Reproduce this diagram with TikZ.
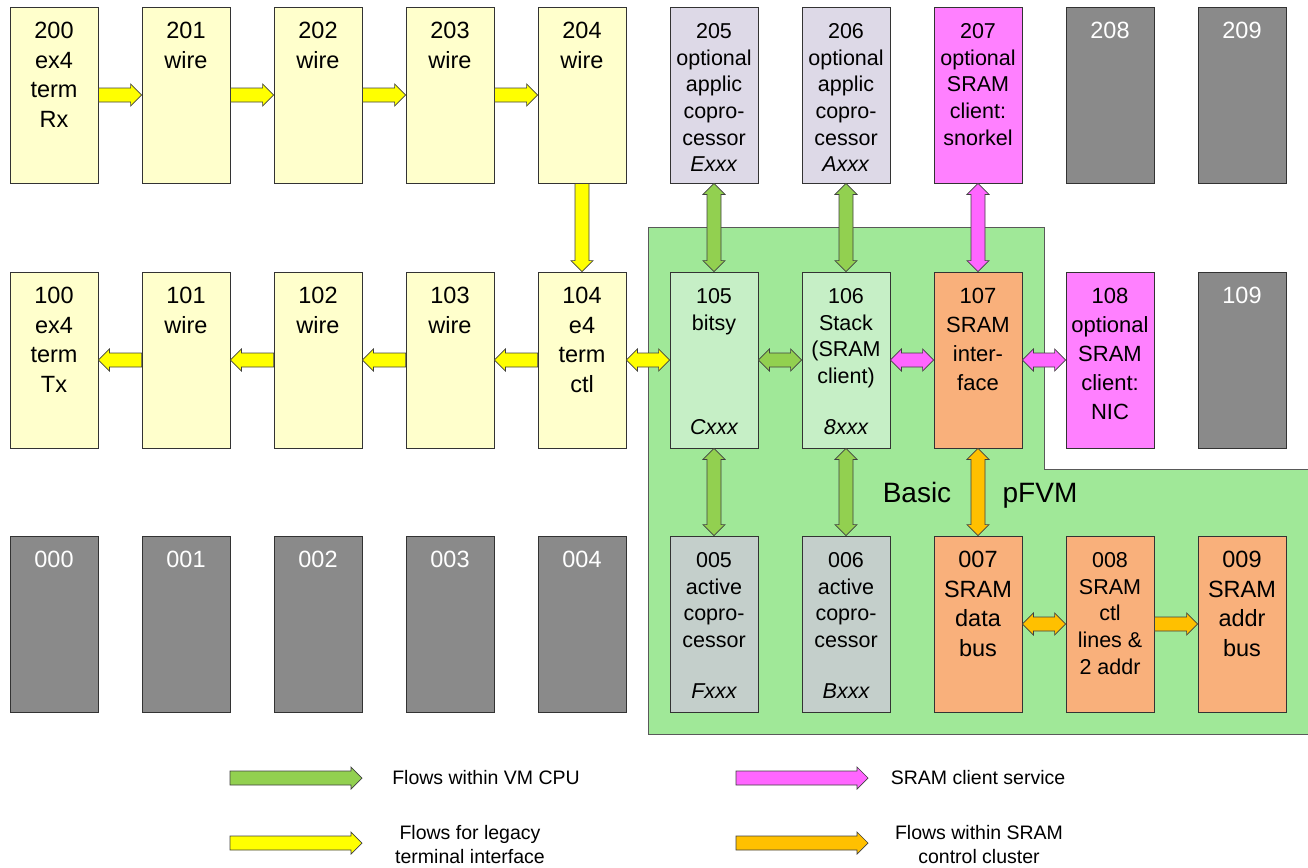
\documentclass[tikz,border=0pt]{standalone}
\usepackage{fontspec}
\setmainfont{Liberation Sans}
\usepackage{xcolor}
\usetikzlibrary{calc}

\definecolor{bxyel}{HTML}{FFFFCC}
\definecolor{bxlav}{HTML}{DDD9E7}
\definecolor{bxmag}{HTML}{FF80FF}
\definecolor{bxlgr}{HTML}{C6EFC6}
\definecolor{bxora}{HTML}{F9B07B}
\definecolor{bxggr}{HTML}{C4CFCB}
\definecolor{bxgray}{HTML}{8A8A8A}
\definecolor{regreen}{HTML}{A0E898}
\definecolor{ayel}{HTML}{FFFF00}
\definecolor{agrn}{HTML}{92D050}
\definecolor{amag}{HTML}{FF66FF}
\definecolor{aora}{HTML}{FFC000}

\newcommand{\bxbig}{\fontsize{23.5}{29.5}\selectfont}
\newcommand{\bxmid}{\fontsize{22}{29}\selectfont}
\newcommand{\bxsml}{\fontsize{21.5}{26.7}\selectfont}
\newcommand{\lgfont}{\fontsize{19.5}{24}\selectfont}

\tikzset{
  box/.style={draw=black!80, line width=0.8pt, minimum width=88pt, minimum height=176pt, inner sep=0pt},
  btxt/.style={anchor=north, align=center, inner sep=0pt, yshift=-15.5pt, font=\bxbig},
  mtxt/.style={anchor=north, align=center, inner sep=0pt, yshift=-16.5pt, font=\bxmid},
  stxt/.style={anchor=north, align=center, inner sep=0pt, yshift=-16.5pt, font=\bxsml},
  itl/.style={anchor=base, inner sep=0pt, yshift=13.5pt, font=\bxsml\itshape},
  onearr/.style={draw=black!75, line width=0.7pt, to path={
    ($(\tikztostart)!7pt!90:(\tikztotarget)$)
    -- ($(\tikztotarget)!11pt!(\tikztostart)!7pt!90:(\tikztotarget)$)
    -- ($(\tikztotarget)!11pt!(\tikztostart)!11pt!90:(\tikztotarget)$)
    -- (\tikztotarget)
    -- ($(\tikztotarget)!11pt!(\tikztostart)!11pt!-90:(\tikztotarget)$)
    -- ($(\tikztotarget)!11pt!(\tikztostart)!7pt!-90:(\tikztotarget)$)
    -- ($(\tikztostart)!7pt!-90:(\tikztotarget)$) -- cycle}},
  twoarr/.style={draw=black!75, line width=0.7pt, to path={
    (\tikztostart)
    -- ($(\tikztostart)!11pt!(\tikztotarget)!11pt!90:(\tikztotarget)$)
    -- ($(\tikztostart)!11pt!(\tikztotarget)!7pt!90:(\tikztotarget)$)
    -- ($(\tikztotarget)!11pt!(\tikztostart)!7pt!90:(\tikztotarget)$)
    -- ($(\tikztotarget)!11pt!(\tikztostart)!11pt!90:(\tikztotarget)$)
    -- (\tikztotarget)
    -- ($(\tikztotarget)!11pt!(\tikztostart)!11pt!-90:(\tikztotarget)$)
    -- ($(\tikztotarget)!11pt!(\tikztostart)!7pt!-90:(\tikztotarget)$)
    -- ($(\tikztostart)!11pt!(\tikztotarget)!7pt!-90:(\tikztotarget)$)
    -- ($(\tikztostart)!11pt!(\tikztotarget)!11pt!-90:(\tikztotarget)$)
    -- cycle}},
  lgtxt/.style={align=center, inner sep=0pt, font=\lgfont}
}

\begin{document}
\begin{tikzpicture}[x=1pt, y=-1pt]
  \useasboundingbox (0,0) rectangle (1308,867);

  % basic pFVM region
  \filldraw[fill=regreen, draw=black!65, line width=0.8pt] (648,227) -- (1044,227) -- (1044,469)
    -- (1312,469) -- (1312,734) -- (648,734) -- cycle;
  \node[font=\fontsize{28}{32}\selectfont, anchor=base, inner sep=0pt] (basic) at (917,502) {Basic};
  \node[font=\fontsize{28}{32}\selectfont, anchor=base, inner sep=0pt] (pfvm) at (1040,502) {pFVM};

  % row 2xx
  \node[box, fill=bxyel] (n200) at (54,95) {};
  \node[btxt] (t200) at (n200.north) {200\\ex4\\term\\Rx};
  \node[box, fill=bxyel] (n201) at (186,95) {};
  \node[btxt] (t201) at (n201.north) {201\\wire};
  \node[box, fill=bxyel] (n202) at (318,95) {};
  \node[btxt] (t202) at (n202.north) {202\\wire};
  \node[box, fill=bxyel] (n203) at (450,95) {};
  \node[btxt] (t203) at (n203.north) {203\\wire};
  \node[box, fill=bxyel] (n204) at (582,95) {};
  \node[btxt] (t204) at (n204.north) {204\\wire};
  \node[box, fill=bxlav] (n205) at (714,95) {};
  \node[stxt] (t205) at (n205.north) {205\\optional\\applic\\copro-\\cessor\\\textit{Exxx}};
  \node[box, fill=bxlav] (n206) at (846,95) {};
  \node[stxt] (t206) at (n206.north) {206\\optional\\applic\\copro-\\cessor\\\textit{Axxx}};
  \node[box, fill=bxmag] (n207) at (978,95) {};
  \node[stxt] (t207) at (n207.north) {207\\optional\\SRAM\\client:\\snorkel};

  % row 1xx
  \node[box, fill=bxyel] (n100) at (54,360) {};
  \node[btxt] (t100) at (n100.north) {100\\ex4\\term\\Tx};
  \node[box, fill=bxyel] (n101) at (186,360) {};
  \node[btxt] (t101) at (n101.north) {101\\wire};
  \node[box, fill=bxyel] (n102) at (318,360) {};
  \node[btxt] (t102) at (n102.north) {102\\wire};
  \node[box, fill=bxyel] (n103) at (450,360) {};
  \node[btxt] (t103) at (n103.north) {103\\wire};
  \node[box, fill=bxyel] (n104) at (582,360) {};
  \node[btxt] (t104) at (n104.north) {104\\e4\\term\\ctl};
  \node[box, fill=bxlgr] (n105) at (714,360) {};
  \node[stxt] (t105) at (n105.north) {105\\bitsy};
  \node[itl] (c105) at (n105.south) {Cxxx};
  \node[box, fill=bxlgr] (n106) at (846,360) {};
  \node[stxt] (t106) at (n106.north) {106\\Stack\\(SRAM\\client)};
  \node[itl] (c106) at (n106.south) {8xxx};
  \node[box, fill=bxora] (n107) at (978,360) {};
  \node[mtxt] (t107) at (n107.north) {107\\SRAM\\inter-\\face};
  \node[box, fill=bxmag] (n108) at (1110,360) {};
  \node[mtxt] (t108) at (n108.north) {108\\optional\\SRAM\\client:\\NIC};

  % row 0xx
  \node[box, fill=bxggr] (n005) at (714,624) {};
  \node[stxt] (t005) at (n005.north) {005\\active\\copro-\\cessor};
  \node[itl] (c005) at (n005.south) {Fxxx};
  \node[box, fill=bxggr] (n006) at (846,624) {};
  \node[stxt] (t006) at (n006.north) {006\\active\\copro-\\cessor};
  \node[itl] (c006) at (n006.south) {Bxxx};
  \node[box, fill=bxora] (n007) at (978,624) {};
  \node[btxt] (t007) at (n007.north) {007\\SRAM\\data\\bus};
  \node[box, fill=bxora] (n008) at (1110,624) {};
  \node[stxt] (t008) at (n008.north) {008\\SRAM\\ctl\\lines \&\\2 addr};
  \node[box, fill=bxora] (n009) at (1242,624) {};
  \node[btxt] (t009) at (n009.north) {009\\SRAM\\addr\\bus};

  % unused slots
  \foreach \n/\x/\y in {208/1110/95, 209/1242/95, 109/1242/360, 000/54/624,
                        001/186/624, 002/318/624, 003/450/624, 004/582/624} {
    \node[box, fill=bxgray] (n\n) at (\x,\y) {};
    \node[btxt, text=white] (t\n) at (n\n.north) {\n};
  }

  % legacy terminal flows
  \draw[onearr, fill=ayel] (n200.east) to (n201.west);
  \draw[onearr, fill=ayel] (n201.east) to (n202.west);
  \draw[onearr, fill=ayel] (n202.east) to (n203.west);
  \draw[onearr, fill=ayel] (n203.east) to (n204.west);
  \draw[onearr, fill=ayel] (n204.south) to (n104.north);
  \draw[onearr, fill=ayel] (n104.west) to (n103.east);
  \draw[onearr, fill=ayel] (n103.west) to (n102.east);
  \draw[onearr, fill=ayel] (n102.west) to (n101.east);
  \draw[onearr, fill=ayel] (n101.west) to (n100.east);
  \draw[twoarr, fill=ayel] (n104.east) to (n105.west);

  % VM CPU flows
  \draw[twoarr, fill=agrn] (n205.south) to (n105.north);
  \draw[twoarr, fill=agrn] (n206.south) to (n106.north);
  \draw[twoarr, fill=agrn] (n105.east) to (n106.west);
  \draw[twoarr, fill=agrn] (n105.south) to (n005.north);
  \draw[twoarr, fill=agrn] (n106.south) to (n006.north);

  % SRAM client service
  \draw[twoarr, fill=amag] (n207.south) to (n107.north);
  \draw[twoarr, fill=amag] (n106.east) to (n107.west);
  \draw[twoarr, fill=amag] (n107.east) to (n108.west);

  % SRAM control cluster
  \draw[twoarr, fill=aora] (n107.south) to (n007.north);
  \draw[twoarr, fill=aora] (n007.east) to (n008.west);
  \draw[onearr, fill=aora] (n008.east) to (n009.west);

  % legend
  \coordinate (lg1a) at (230,778);
  \coordinate (lg1b) at (362,778);
  \coordinate (lg2a) at (230,843);
  \coordinate (lg2b) at (362,843);
  \coordinate (lg3a) at (736,778);
  \coordinate (lg3b) at (868,778);
  \coordinate (lg4a) at (736,843);
  \coordinate (lg4b) at (868,843);
  \draw[onearr, fill=agrn] (lg1a) to (lg1b);
  \draw[onearr, fill=ayel] (lg2a) to (lg2b);
  \draw[onearr, fill=amag] (lg3a) to (lg3b);
  \draw[onearr, fill=aora] (lg4a) to (lg4b);
  \node[lgtxt] (lg1) at (486,778) {Flows within VM CPU};
  \node[lgtxt] (lg2) at (470,845) {Flows for legacy\\terminal interface};
  \node[lgtxt] (lg3) at (978,778) {SRAM client service};
  \node[lgtxt] (lg4) at (979,845) {Flows within SRAM\\control cluster};
\end{tikzpicture}
\end{document}
